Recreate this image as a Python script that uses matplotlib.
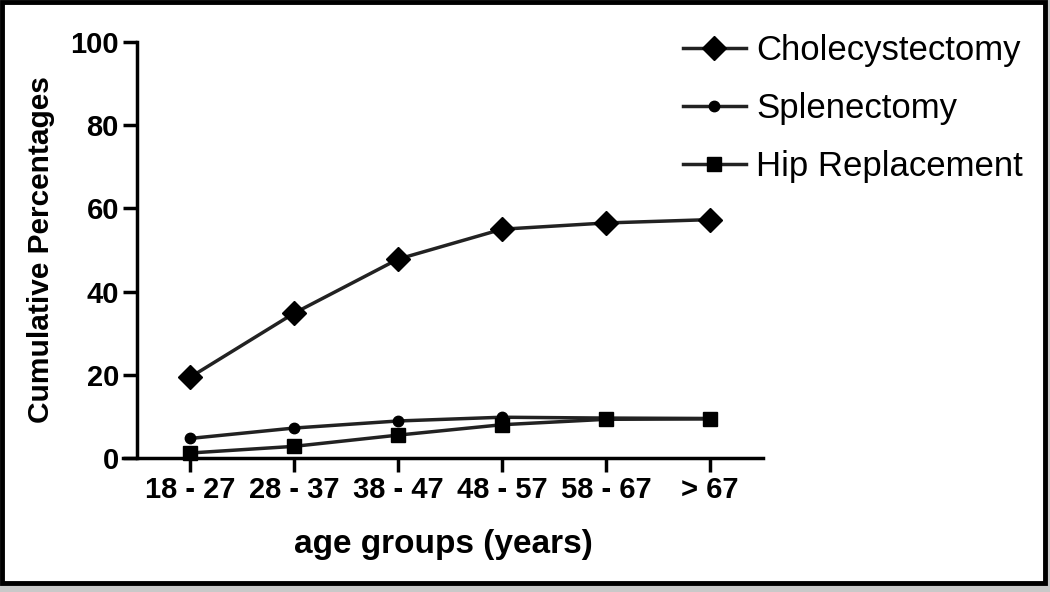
import numpy as np
import matplotlib.pyplot as plt
from matplotlib.patches import Rectangle

plt.rcParams['font.family'] = ['Liberation Sans', 'DejaVu Sans']

age_groups = ['18 - 27', '28 - 37', '38 - 47', '48 - 57', '58 - 67', '> 67']
cholecystectomy = [19.4, 34.8, 47.8, 55.0, 56.5, 57.3]
splenectomy = [4.7, 7.2, 8.9, 9.8, 9.6, 9.5]
hip_replacement = [1.2, 2.8, 5.5, 8.0, 9.3, 9.4]

W, H = 1050, 592
fig = plt.figure(figsize=(W / 100, H / 100), dpi=100, facecolor='#c9c9c9')

# white panel with black frame, kept behind the axes
fig.patches.append(Rectangle((2 / W, 1 - 583 / H), 1043 / W, 581 / H,
                             transform=fig.transFigure, facecolor='white',
                             edgecolor='black', linewidth=3.5, zorder=-5))

ax = fig.add_axes([123 / W, 1 - 458 / H, (763 - 123) / W, (458 - 42) / H])
ax.set_facecolor('none')

x = np.arange(len(age_groups))
lc = '#222222'
ax.plot(x, cholecystectomy, color=lc, lw=2.5, marker='D', ms=12.5,
        mfc='black', mec='black', label='Cholecystectomy', clip_on=False)
ax.plot(x, splenectomy, color=lc, lw=2.5, marker='o', ms=7.5,
        mfc='black', mec='black', label='Splenectomy', clip_on=False)
ax.plot(x, hip_replacement, color=lc, lw=2.5, marker='s', ms=10.5,
        mfc='black', mec='black', label='Hip Replacement', clip_on=False)

ax.set_xlim(-0.645, 5.51)
ax.set_ylim(0, 100)
ax.spines['left'].set_position(('data', -0.51))
ax.spines['top'].set_visible(False)
ax.spines['right'].set_visible(False)
for s in ('left', 'bottom'):
    ax.spines[s].set_linewidth(2.5)
    ax.spines[s].set_color('black')

ax.set_xticks(x)
ax.set_xticklabels(age_groups)
ax.set_yticks([0, 20, 40, 60, 80, 100])
ax.tick_params(direction='out', length=10, width=2.5, colors='black', pad=3,
               labelsize=21)
for lab in ax.get_xticklabels() + ax.get_yticklabels():
    lab.set_fontweight('bold')

ax.set_xlabel('age groups (years)', fontsize=24, fontweight='bold', labelpad=18)
ax.set_ylabel('Cumulative Percentages', fontsize=21.5, fontweight='bold')
ax.yaxis.set_label_coords(-0.106, 0.5)

fig.legend(loc='upper left', bbox_to_anchor=(683 / W, 1 - 34 / H),
           bbox_transform=fig.transFigure, frameon=False, fontsize=25,
           handlelength=1.8, handletextpad=0.3, labelspacing=0.72,
           borderpad=0, borderaxespad=0)

fig.savefig('out.png', dpi=100, facecolor=fig.get_facecolor())
